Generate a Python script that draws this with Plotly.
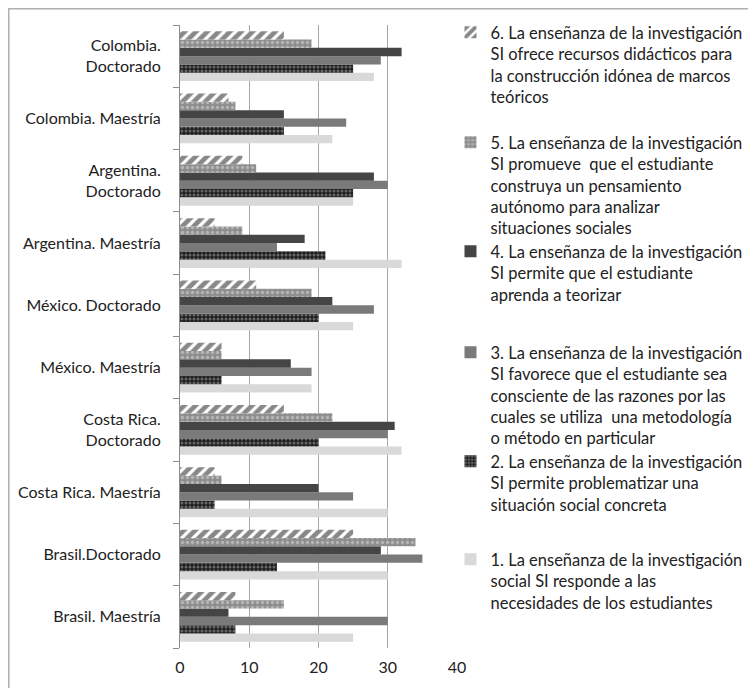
import plotly.graph_objects as go

categories = ["Brasil. Maestría", "Brasil.Doctorado", "Costa Rica. Maestría",
              "Costa Rica.<br>Doctorado", "México. Maestría", "México. Doctorado",
              "Argentina. Maestría", "Argentina.<br>Doctorado", "Colombia. Maestría",
              "Colombia.<br>Doctorado"]

s1 = [25, 30, 30, 32, 19, 25, 32, 25, 22, 28]
s2 = [8, 14, 5, 20, 6, 20, 21, 25, 15, 25]
s3 = [30, 35, 25, 30, 19, 28, 14, 30, 24, 29]
s4 = [7, 29, 20, 31, 16, 22, 18, 28, 15, 32]
s5 = [15, 34, 6, 22, 6, 19, 9, 11, 8, 19]
s6 = [8, 25, 5, 15, 6, 11, 5, 9, 7, 15]

names = [
    "1. La enseñanza de la investigación<br>social SI responde a las<br>necesidades de los estudiantes",
    "2. La enseñanza de la investigación<br>SI permite problematizar una<br>situación social concreta",
    "3. La enseñanza de la investigación<br>SI favorece que el estudiante sea<br>consciente de las razones por las<br>cuales se utiliza  una metodología<br>o método en particular",
    "4. La enseñanza de la investigación<br>SI permite que el estudiante<br>aprenda a teorizar",
    "5. La enseñanza de la investigación<br>SI promueve  que el estudiante<br>construya un pensamiento<br>autónomo para analizar<br>situaciones sociales",
    "6. La enseñanza de la investigación<br>SI ofrece recursos didácticos para<br>la construcción idónea de marcos<br>teóricos",
]

series = [s1, s2, s3, s4, s5, s6]
styles = [
    dict(color="#d9d9d9"),
    dict(color="#222222", pattern=dict(shape=".", bgcolor="#1e1e1e", fgcolor="#b0b0b0", size=4, solidity=0.45)),
    dict(color="#7a7a7a"),
    dict(color="#454545"),
    dict(color="#999999", pattern=dict(shape=".", bgcolor="#8e8e8e", fgcolor="#dcdcdc", size=5, solidity=0.35)),
    dict(color="#111111", pattern=dict(shape="/", bgcolor="#ffffff", fgcolor="#111111", size=8, solidity=0.6)),
]

L, T, PW, PH = 172, 17, 277, 623
W, H = 748, 680
first_line_y = [560, 462, 353, 252, 143, 33]  # placement of each legend entry

fig = go.Figure()
legend_layouts = {}
for i, (vals, nm, st, ly) in enumerate(zip(series, names, styles, first_line_y)):
    key = "legend" if i == 0 else f"legend{i + 1}"
    fig.add_trace(go.Bar(
        y=categories, x=vals, orientation="h", name=nm,
        marker=dict(line=dict(width=0), **st),
        legend=key,
    ))
    legend_layouts[key] = dict(
        x=0.9765, xanchor="left",
        y=1 - (ly - 26 - T) / PH, yanchor="top",
        valign="top", font=dict(family="Lato", size=16.5, color="#222222"),
        itemwidth=30, bgcolor="rgba(0,0,0,0)", borderwidth=0,
    )

fig.update_layout(
    width=W, height=H,
    margin=dict(l=L, r=W - L - PW, t=T, b=H - T - PH, autoexpand=False),
    paper_bgcolor="white", plot_bgcolor="white",
    barmode="group", bargap=0.2, bargroupgap=0,
    font=dict(family="Lato", size=16, color="#222222"),
    showlegend=True,
    xaxis=dict(range=[0, 40], tickvals=[0, 10, 20, 30, 40], showgrid=True,
               gridcolor="#a6a6a6", gridwidth=1, zeroline=False, showline=False,
               ticks="", tickfont=dict(size=16), ticklabelstandoff=8,
               automargin=False),
    yaxis=dict(type="category", showline=True, linecolor="#8c8c8c", linewidth=1,
               ticks="outside", tickson="boundaries", ticklen=6, tickcolor="#8c8c8c",
               showgrid=False, tickfont=dict(size=16), ticklabelstandoff=15,
               automargin=False),
    shapes=[dict(type="rect", xref="paper", yref="paper",
                 x0=(0.75 - L) / PW, x1=3.0, y0=-0.2, y1=1 + (T - 0.75) / PH,
                 line=dict(color="#b0b0b0", width=1.5), fillcolor="rgba(0,0,0,0)",
                 layer="below")],
    **legend_layouts,
)

fig.write_html("out.html")
